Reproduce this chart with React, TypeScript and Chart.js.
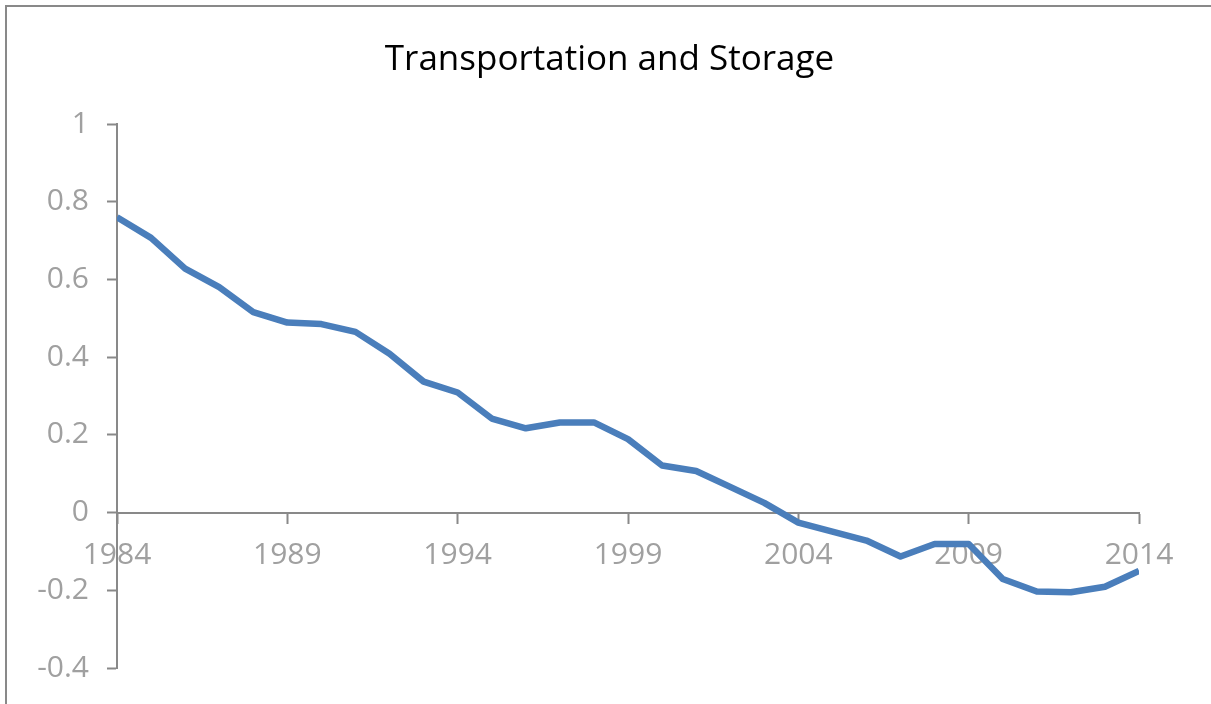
import React, { useEffect, useRef } from "react";
import { Chart, registerables } from "chart.js";

Chart.register(...registerables);

const years: number[] = [
  1984, 1985, 1986, 1987, 1988, 1989, 1990, 1991, 1992, 1993, 1994,
  1995, 1996, 1997, 1998, 1999, 2000, 2001, 2002, 2003, 2004,
  2005, 2006, 2007, 2008, 2009, 2010, 2011, 2012, 2013, 2014,
];
const values: number[] = [
  0.760, 0.707, 0.628, 0.580, 0.516, 0.489, 0.485, 0.465, 0.409, 0.337, 0.309,
  0.242, 0.217, 0.232, 0.232, 0.189, 0.121, 0.107, 0.066, 0.025, -0.026,
  -0.049, -0.072, -0.113, -0.081, -0.081, -0.171, -0.203, -0.205, -0.191, -0.150,
];
const titleText = "Transportation and Storage";
const yMin = -0.4;
const yMax = 1;
const yStep = 0.2;
const xMin = 1984;
const xMax = 2014;
const xStep = 5;

const FONT = "'Open Sans', 'Noto Sans', sans-serif";
const AXIS = "#898989";
const LABEL = "#a0a0a0";

const framePlugin = {
  id: "frame",
  beforeDraw(chart: any) {
    const ctx = chart.ctx;
    ctx.save();
    ctx.fillStyle = "#ffffff";
    ctx.fillRect(0, 0, chart.width, chart.height);
    ctx.fillStyle = AXIS;
    ctx.fillRect(5, 5, chart.width - 5, 2);
    ctx.fillRect(5, 5, 2, chart.height - 5);
    ctx.restore();
  },
};

const titlePlugin = {
  id: "centeredTitle",
  afterDraw(chart: any) {
    const ctx = chart.ctx;
    ctx.save();
    ctx.fillStyle = "#000000";
    ctx.font = `35px ${FONT}`;
    ctx.textAlign = "center";
    ctx.textBaseline = "middle";
    ctx.fillText(titleText, 609.5, 60);
    ctx.restore();
  },
};

export default function App() {
  const ref = useRef<HTMLCanvasElement | null>(null);
  useEffect(() => {
    if (!ref.current) return;
    const chart = new Chart(ref.current, {
      type: "line",
      data: {
        datasets: [
          {
            label: titleText,
            data: years.map((y, i) => ({ x: y, y: values[i] })),
            borderColor: "#4a7ebb",
            borderWidth: 6.5,
            pointRadius: 0,
            tension: 0,
            fill: false,
            borderCapStyle: "butt",
            borderJoinStyle: "round",
          },
        ],
      },
      options: {
        animation: false,
        responsive: false,
        layout: { padding: { left: 0, right: 72, top: 124, bottom: 31 } },
        plugins: {
          legend: { display: false },
          tooltip: { enabled: false },
          title: { display: false },
        },
        scales: {
          x: {
            type: "linear",
            min: xMin,
            max: xMax,
            position: { y: 0 } as any,
            ticks: {
              stepSize: xStep,
              color: LABEL,
              font: { family: FONT, size: 30 },
              padding: 15,
              maxRotation: 0,
              autoSkip: false,
              callback: (v: any) => String(v),
            },
            grid: {
              drawOnChartArea: false,
              drawTicks: true,
              tickLength: 10,
              tickColor: AXIS,
              tickWidth: 2,
            },
            border: { display: true, color: AXIS, width: 2 },
          },
          y: {
            type: "linear",
            min: yMin,
            max: yMax,
            ticks: {
              stepSize: yStep,
              color: LABEL,
              font: { family: FONT, size: 30 },
              padding: 18,
              callback: (v: any) => String(Number(Number(v).toFixed(1))),
            },
            grid: {
              drawOnChartArea: false,
              drawTicks: true,
              tickLength: 10,
              tickColor: AXIS,
              tickWidth: 2,
            },
            border: { display: true, color: AXIS, width: 2 },
            afterFit: (scale: any) => {
              scale.width = 117;
            },
          },
        },
      },
      plugins: [framePlugin, titlePlugin],
    } as any);
    return () => chart.destroy();
  }, []);
  return (
    <div style={{ position: "fixed", left: 0, top: 0, width: 1211, height: 704, background: "#fff" }}>
      <canvas ref={ref} width={1211} height={704} />
    </div>
  );
}
